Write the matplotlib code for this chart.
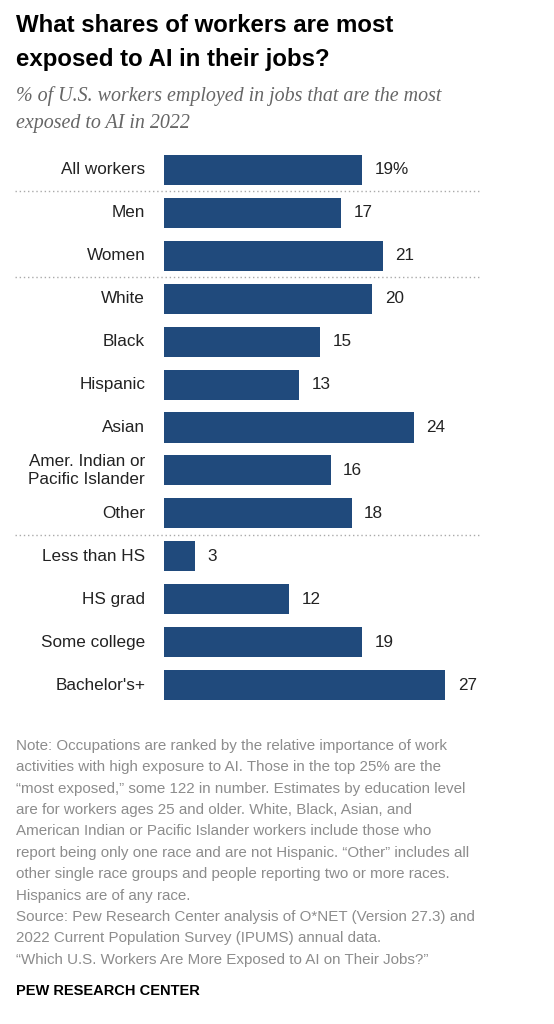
import matplotlib.pyplot as plt
import matplotlib.transforms as mtransforms

categories = ["All workers", "Men", "Women", "White", "Black", "Hispanic", "Asian",
              "Amer. Indian or\nPacific Islander", "Other", "Less than HS", "HS grad",
              "Some college", "Bachelor's+"]
values = [19, 17, 21, 20, 15, 13, 24, 16, 18, 3, 12, 19, 27]
value_labels = ["19%", "17", "21", "20", "15", "13", "24", "16", "18", "3", "12", "19", "27"]
group_breaks = [0.5, 2.5, 8.5]

bar_color = "#204a7c"
W, H = 554, 1024

fig = plt.figure(figsize=(W / 100, H / 100), dpi=100)
fig.patch.set_facecolor("white")

# axes placed in pixel terms
left, right = 164, 476.6
top, bottom = 148.5, 706.5
ax = fig.add_axes([left / W, 1 - bottom / H, (right - left) / W, (bottom - top) / H])

y = list(range(len(categories)))
ax.barh(y, values, height=0.7, color=bar_color)
ax.set_xlim(0, 30)
ax.set_ylim(len(categories) - 0.5, -0.5)
ax.axis("off")

for yi, v, lab, cat in zip(y, values, value_labels, categories):
    ax.text(v + 1.2, yi, lab, va="center", ha="left", fontsize=12.3, color="#222222",
            family="Liberation Sans")
    ax.text(-1.8, yi, cat, va="center", ha="right", fontsize=12.3, color="#222222",
            family="Liberation Sans", linespacing=1.25)

# dotted group separators spanning the label area too
trans = mtransforms.blended_transform_factory(fig.transFigure, ax.transData)
for b in group_breaks:
    ax.plot([15 / W, 480 / W], [b, b], transform=trans, color="#aaaaaa",
            linestyle=(0, (1, 2)), linewidth=1.0, clip_on=False)

fig.text(16 / W, 1 - 14 / H, "What shares of workers are most\nexposed to AI in their jobs?",
         ha="left", va="top", fontsize=17.3, fontweight="bold", family="Liberation Sans",
         color="#000000", linespacing=1.6)
fig.text(16 / W, 1 - 86 / H, "% of U.S. workers employed in jobs that are the most\nexposed to AI in 2022",
         ha="left", va="top", fontsize=14.4, style="italic", family="Liberation Serif",
         color="#666666", linespacing=1.55)

note = ("Note: Occupations are ranked by the relative importance of work\n"
        "activities with high exposure to AI. Those in the top 25% are the\n"
        "\u201cmost exposed,\u201d some 122 in number. Estimates by education level\n"
        "are for workers ages 25 and older. White, Black, Asian, and\n"
        "American Indian or Pacific Islander workers include those who\n"
        "report being only one race and are not Hispanic. \u201cOther\u201d includes all\n"
        "other single race groups and people reporting two or more races.\n"
        "Hispanics are of any race.\n"
        "Source: Pew Research Center analysis of O*NET (Version 27.3) and\n"
        "2022 Current Population Survey (IPUMS) annual data.\n"
        "\u201cWhich U.S. Workers Are More Exposed to AI on Their Jobs?\u201d")
fig.text(16 / W, 1 - 739 / H, note, ha="left", va="top", fontsize=10.9,
         family="Liberation Sans", color="#8c8c8c", linespacing=1.67)
fig.text(16 / W, 1 - 984 / H, "PEW RESEARCH CENTER", ha="left", va="top", fontsize=10.5,
         fontweight="bold", family="Liberation Sans", color="#000000")

fig.savefig("out.png", dpi=100)
